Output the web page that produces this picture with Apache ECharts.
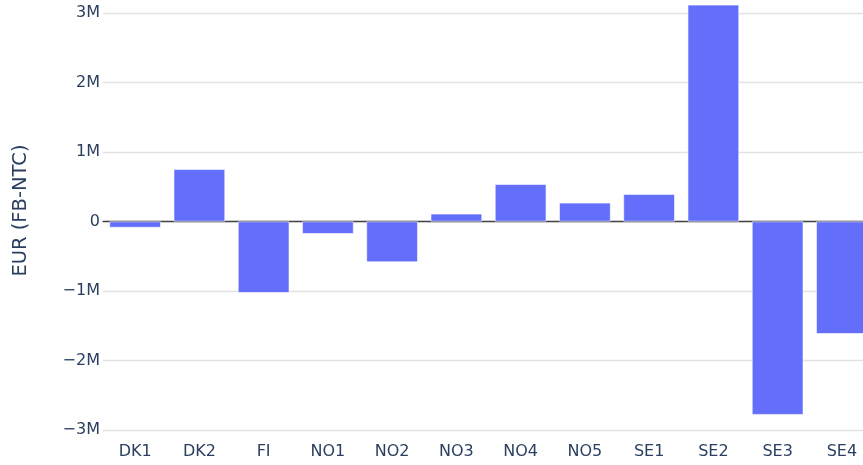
<!DOCTYPE html>
<html>
<head>
<meta charset="utf-8">
<script src="https://cdn.jsdelivr.net/npm/echarts@6/dist/echarts.min.js"></script>
<style>
html,body{margin:0;padding:0;background:#fff;}
#chart{width:863px;height:465px;}
</style>
</head>
<body>
<div id="chart"></div>
<script>
const categories = ['DK1','DK2','FI','NO1','NO2','NO3','NO4','NO5','SE1','SE2','SE3','SE4'];
const values = [-88000, 754000, -1026000, -177000, -584000, 111000, 538000, 269000, 394000, 3118000, -2780000, -1616000];
const yTickValues = [-3000000, -2000000, -1000000, 0, 1000000, 2000000, 3000000];
const yTickLabels = ['\u22123M', '\u22122M', '\u22121M', '0', '1M', '2M', '3M'];
const yAxisTitle = 'EUR (FB-NTC)';

const textColor = '#2a3f5f';
const font = 'DejaVu Sans, Verdana, sans-serif';

const chart = echarts.init(document.getElementById('chart'));
chart.setOption({
  animation: false,
  backgroundColor: '#ffffff',
  grid: { left: 103, width: 771, top: 13, bottom: 35, containLabel: false, outerBoundsMode: 'none' },
  xAxis: [
    {
      type: 'category',
      data: categories,
      axisLine: { show: false, onZero: false },
      axisTick: { show: false },
      axisLabel: { color: textColor, fontFamily: font, fontSize: 16, margin: 14 },
      splitLine: { show: false }
    },
    {
      type: 'category',
      data: categories,
      position: 'bottom',
      axisLine: { show: true, onZero: true, lineStyle: { color: '#444', width: 1.3 } },
      axisTick: { show: false },
      axisLabel: { show: false },
      splitLine: { show: false }
    }
  ],
  yAxis: {
    type: 'value',
    min: yTickValues[0],
    max: yTickValues[yTickValues.length - 1],
    interval: 1000000,
    name: yAxisTitle,
    nameLocation: 'middle',
    nameGap: 72,
    nameRotate: 90,
    nameTextStyle: { color: textColor, fontFamily: font, fontSize: 19.5, padding: [0, 0, 0, 22] },
    axisLine: { show: false },
    axisTick: { show: false },
    axisLabel: {
      color: textColor, fontFamily: font, fontSize: 16, margin: 3,
      formatter: function (v) {
        const i = yTickValues.indexOf(v);
        return i >= 0 ? yTickLabels[i] : '';
      }
    },
    splitLine: { show: true, lineStyle: { color: '#e2e2e2', width: 1.3 } }
  },
  series: [{
    type: 'bar',
    data: values,
    xAxisIndex: 0,
    barCategoryGap: '20%',
    clip: false,
    itemStyle: { color: '#636efa', borderColor: '#ffffff', borderWidth: 0.6 }
  }]
});
</script>
</body>
</html>
